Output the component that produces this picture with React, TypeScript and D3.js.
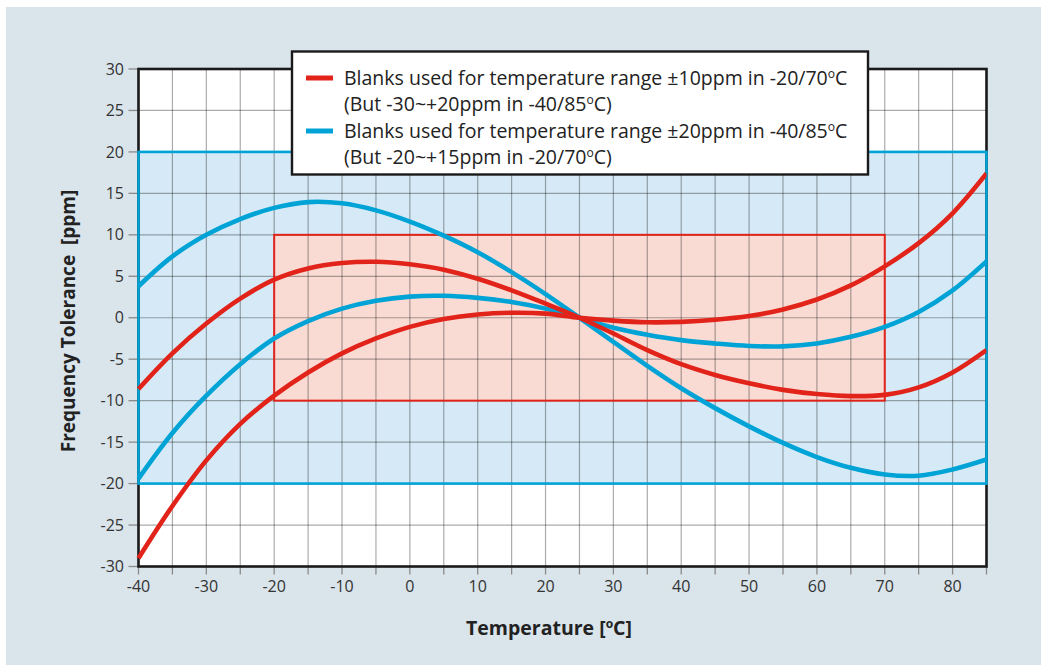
import React from "react";
import * as d3 from "d3";

const temps = [-40, -35, -30, -25, -20, -15, -10, -5, 0, 5, 10, 15, 20, 25, 30, 35, 40, 45, 50, 55, 60, 65, 70, 75, 80, 85];

const blueUpper = [3.8, 7.4, 10.0, 11.9, 13.25, 13.95, 13.8, 12.95, 11.6, 9.9, 7.9, 5.5, 2.85, 0, -2.9, -5.8, -8.5, -10.9, -13.1, -15.1, -16.8, -18.1, -18.9, -19.05, -18.3, -17.1];
const redUpper = [-8.6, -4.3, -0.7, 2.3, 4.6, 5.95, 6.6, 6.75, 6.45, 5.8, 4.7, 3.3, 1.7, 0, -1.9, -3.9, -5.6, -6.9, -7.9, -8.7, -9.2, -9.45, -9.3, -8.4, -6.6, -3.9];
const blueLower = [-19.4, -13.9, -9.4, -5.6, -2.5, -0.4, 1.1, 2.05, 2.55, 2.65, 2.4, 1.9, 1.1, 0, -1.2, -2.05, -2.7, -3.1, -3.4, -3.45, -3.1, -2.3, -1.1, 0.7, 3.3, 6.8];
const redLower = [-29.0, -22.7, -17.2, -12.8, -9.4, -6.6, -4.3, -2.5, -1.1, -0.15, 0.4, 0.6, 0.5, 0, -0.35, -0.55, -0.5, -0.25, 0.2, 1.0, 2.2, 3.9, 6.2, 9.0, 12.6, 17.4];

const xTicks = [-40, -30, -20, -10, 0, 10, 20, 30, 40, 50, 60, 70, 80];
const xMinor = d3.range(-40, 86, 5);
const yTicks = [-30, -25, -20, -15, -10, -5, 0, 5, 10, 15, 20, 25, 30];

const blueBand = { x0: -40, x1: 85, y0: -20, y1: 20 };
const redBand = { x0: -20, x1: 70, y0: -10, y1: 10 };

const legendLines = [
  { color: "red", main: "Blanks used for temperature range ±10ppm in -20/70", sub: "(But -30~+20ppm in -40/85" },
  { color: "blue", main: "Blanks used for temperature range ±20ppm in -40/85", sub: "(But -20~+15ppm in -20/70" },
];

const RED = "#e2231a";
const BLUE = "#00a3d6";
const FONT = "'Open Sans', 'Noto Sans', sans-serif";

function Deg({ children, size }: { children: React.ReactNode; size: number }) {
  return (
    <>
      {children}
      <tspan fontSize={size * 0.62} dy={-size * 0.38}>o</tspan>
      <tspan dy={size * 0.38}>C</tspan>
    </>
  );
}

export default function App() {
  const W = 1041;
  const H = 665;
  const x = d3.scaleLinear().domain([-40, 85]).range([138.5, 986.5]);
  const y = d3.scaleLinear().domain([-30, 30]).range([566.5, 69]);

  const line = d3
    .line<number>()
    .x((_, i) => x(temps[i]))
    .y((d) => y(d))
    .curve(d3.curveCatmullRom.alpha(0.5));

  const series = [
    { vals: blueUpper, color: BLUE },
    { vals: blueLower, color: BLUE },
    { vals: redUpper, color: RED },
    { vals: redLower, color: RED },
  ];

  const [px0, px1] = x.range();
  const [py0, py1] = [y(30), y(-30)];

  return (
    <svg
      width={W}
      height={H}
      style={{ position: "absolute", left: 0, top: 0, fontFamily: FONT }}
    >
      <defs>
        <clipPath id="plotclip">
          <rect x={px0 - 3} y={py0} width={px1 - px0 + 3} height={py1 - py0} />
        </clipPath>
      </defs>
      <rect x={6} y={7} width={W - 6} height={H - 7} fill="#d9e4eb" />
      <rect x={px0} y={py0} width={px1 - px0} height={py1 - py0} fill="#ffffff" />
      <rect
        x={x(blueBand.x0)}
        y={y(blueBand.y1)}
        width={x(blueBand.x1) - x(blueBand.x0)}
        height={y(blueBand.y0) - y(blueBand.y1)}
        fill="#d5eaf6"
      />
      <rect
        x={x(redBand.x0)}
        y={y(redBand.y1)}
        width={x(redBand.x1) - x(redBand.x0)}
        height={y(redBand.y0) - y(redBand.y1)}
        fill="#f9dbd4"
      />
      {/* grid */}
      <g stroke="#000" strokeOpacity={0.33} strokeWidth={1.2}>
        {xMinor.map((t) => (
          <line key={"vx" + t} x1={x(t)} x2={x(t)} y1={py0} y2={py1} />
        ))}
        {yTicks.map((v) => (
          <line key={"hy" + v} x1={px0} x2={px1} y1={y(v)} y2={y(v)} />
        ))}
      </g>
      {/* ticks */}
      <g stroke="#8a8a8a" strokeWidth={1.3}>
        {xMinor.map((t) => (
          <line key={"tx" + t} x1={x(t)} x2={x(t)} y1={py1} y2={py1 + 8} />
        ))}
        {yTicks.map((v) => (
          <line key={"ty" + v} x1={px0 - 10} x2={px0} y1={y(v)} y2={y(v)} />
        ))}
      </g>
      {/* frame */}
      <rect
        x={px0}
        y={py0}
        width={px1 - px0}
        height={py1 - py0}
        fill="none"
        stroke="#1a1a1a"
        strokeWidth={2.6}
      />
      <rect
        x={x(redBand.x0)}
        y={y(redBand.y1)}
        width={x(redBand.x1) - x(redBand.x0)}
        height={y(redBand.y0) - y(redBand.y1)}
        fill="none"
        stroke={RED}
        strokeWidth={2}
      />
      <rect
        x={x(blueBand.x0)}
        y={y(blueBand.y1)}
        width={x(blueBand.x1) - x(blueBand.x0)}
        height={y(blueBand.y0) - y(blueBand.y1)}
        fill="none"
        stroke={BLUE}
        strokeWidth={2.6}
      />
      {/* curves */}
      <g clipPath="url(#plotclip)" fill="none" strokeWidth={4.6} strokeLinecap="butt">
        {series.map((s, i) => (
          <path key={i} d={line(s.vals) || ""} stroke={s.color} />
        ))}
      </g>
      {/* axis labels */}
      <g fontSize={16} fill="#333">
        {yTicks.map((v) => (
          <text key={"ly" + v} x={124} y={y(v)} dy="0.35em" textAnchor="end">
            {v}
          </text>
        ))}
        {xTicks.map((t) => (
          <text key={"lx" + t} x={x(t)} y={592} textAnchor="middle">
            {t}
          </text>
        ))}
      </g>
      <text x={549} y={635} textAnchor="middle" fontSize={19.5} fontWeight="bold" fill="#222">
        Temperature [<Deg size={19.5}>{""}</Deg>]
      </text>
      <text
        transform={`translate(75, 321) rotate(-90)`}
        textAnchor="middle"
        fontSize={19}
        fontWeight="bold"
        fill="#222"
        style={{ whiteSpace: "pre" }}
      >
        {"Frequency Tolerance  [ppm]"}
      </text>
      {/* legend */}
      <rect x={292} y={51.5} width={576} height={123} fill="#ffffff" stroke="#1a1a1a" strokeWidth={2.4} />
      {legendLines.map((l, i) => {
        const by = 85 + i * 53;
        return (
          <g key={"lg" + i}>
            <line
              x1={306}
              x2={333}
              y1={by - 7}
              y2={by - 7}
              stroke={l.color === "red" ? RED : BLUE}
              strokeWidth={5}
            />
            <text x={344} y={by} fontSize={19.5} fill="#222">
              <Deg size={19.5}>{l.main}</Deg>
            </text>
            <text x={344} y={by + 26} fontSize={19.5} fill="#222">
              <Deg size={19.5}>{l.sub}</Deg>)
            </text>
          </g>
        );
      })}
    </svg>
  );
}
